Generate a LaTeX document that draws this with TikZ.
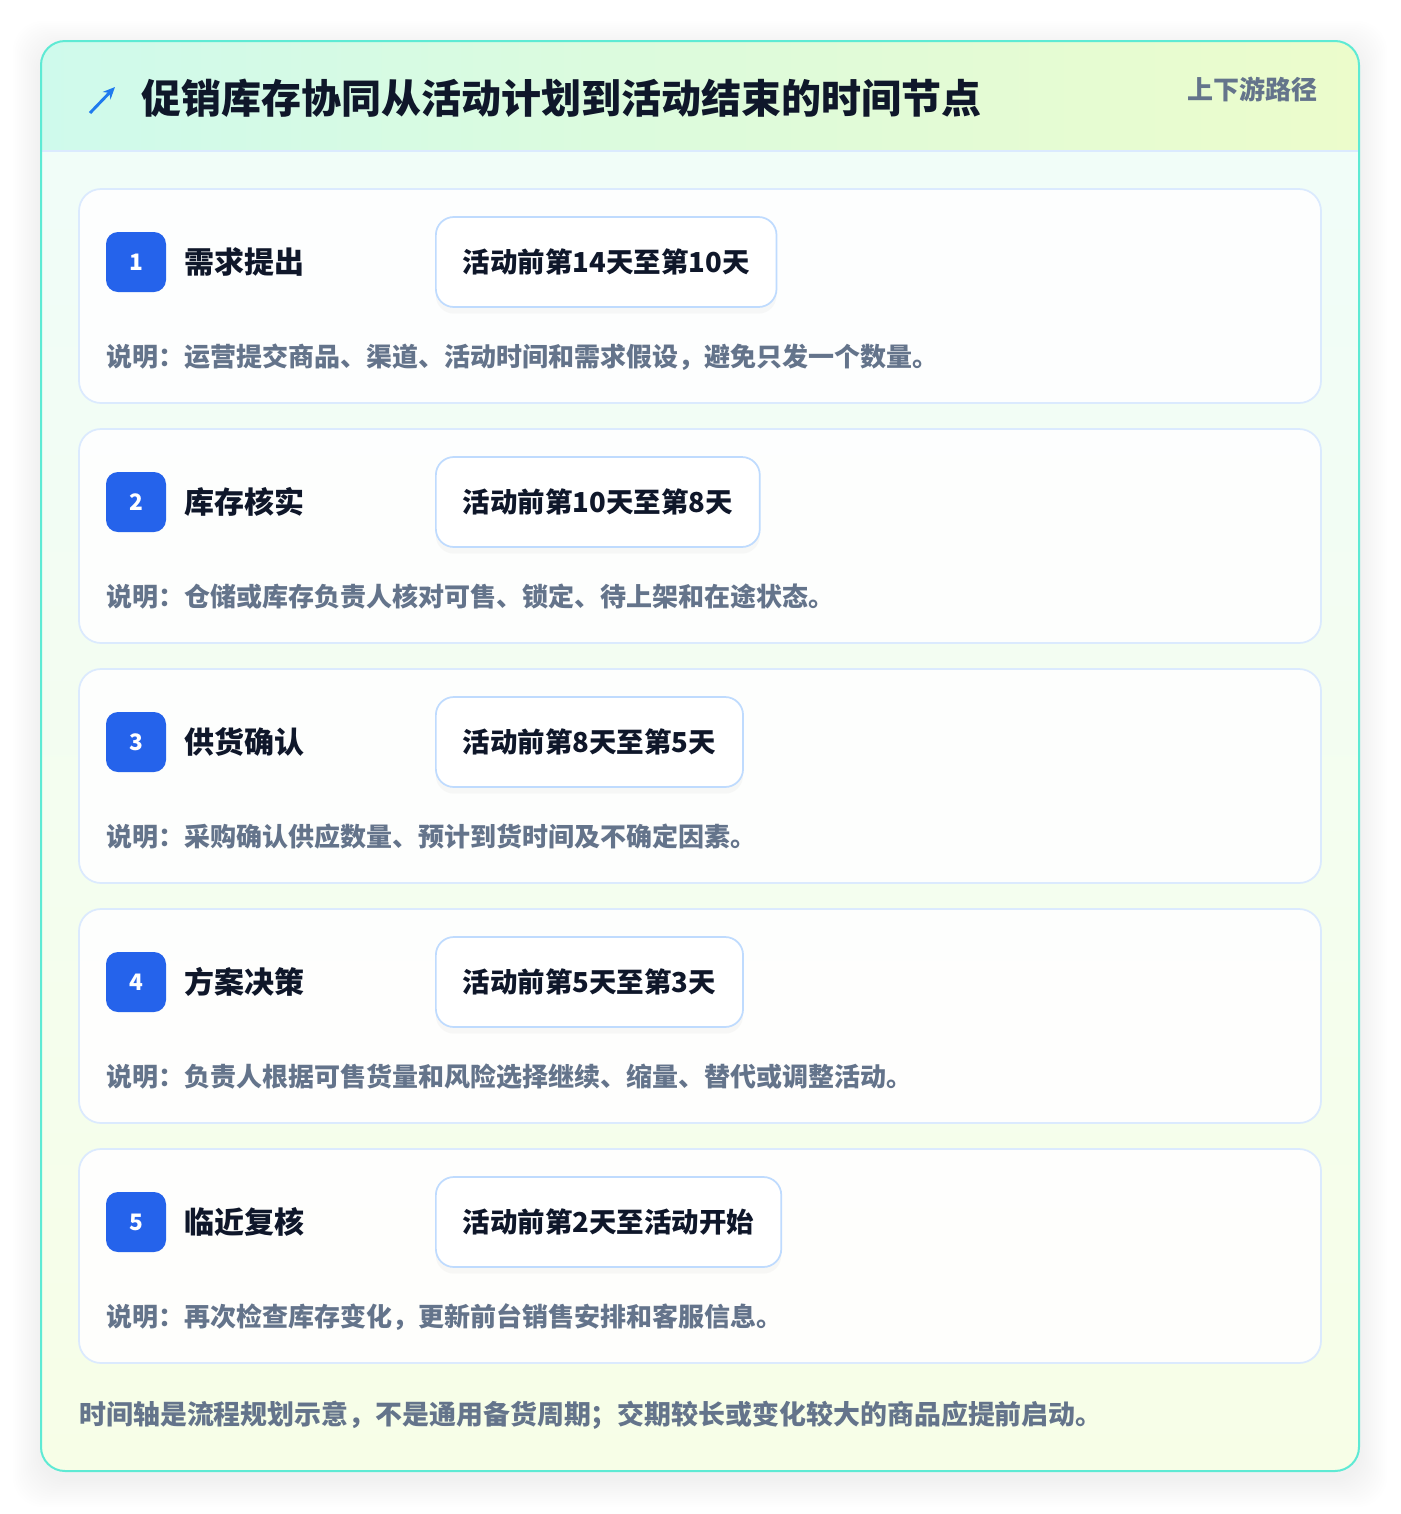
\documentclass[tikz,border=0pt]{standalone}
\usepackage{fontspec}
\setmainfont{Noto Sans CJK SC}
\usepackage{xcolor}
\usetikzlibrary{arrows.meta,positioning,shadows}

\definecolor{bodytop}{HTML}{F0FDFA}
\definecolor{bodybot}{HTML}{F7FEE7}
\definecolor{headl}{HTML}{CFFAEC}
\definecolor{headr}{HTML}{ECFCCB}
\definecolor{rimteal}{HTML}{5EEAD4}
\definecolor{cardline}{HTML}{DBEAFE}
\definecolor{pillline}{HTML}{BFDBFE}
\definecolor{badgeblue}{HTML}{2563EB}
\definecolor{ink}{HTML}{0F172A}
\definecolor{slate}{HTML}{64748B}

\begin{document}
\begin{tikzpicture}[x=0.75pt,y=-0.75pt,
    every node/.style={inner sep=0pt},
    card/.style={draw=cardline, line width=1.3pt, fill=white, fill opacity=0.9, rounded corners=16.5pt},
    badge/.style={fill=badgeblue, text=white, rounded corners=9pt, minimum size=45pt,
        font=\bfseries\fontsize{17}{17}\selectfont},
    steptitle/.style={text=ink, font=\bfseries\fontsize{22.5}{24}\selectfont},
    timepill/.style={draw=pillline, line width=1.3pt, fill=white, rounded corners=13.5pt,
        minimum height=67.5pt, inner xsep=20.25pt, text=ink,
        drop shadow={opacity=0.05, shadow xshift=0pt, shadow yshift=-5pt},
        font=\bfseries\fontsize{20.6}{22}\selectfont},
    note/.style={text=slate, font=\bfseries\fontsize{19.5}{21}\selectfont}]
    \useasboundingbox (0,0) rectangle (1400,1514);
    \fill[white] (0,0) rectangle (1400,1514);
    % soft shadow round the panel
    \foreach \s in {1,...,14}
        \fill[black, opacity=0.005, rounded corners=22pt] ({41-2*\s},{49-2*\s}) rectangle ({1359+2*\s},{1479+2*\s});
    % panel
    \begin{scope}
        \clip[rounded corners=18pt] (41,41) rectangle (1359,1471);
        \shade[top color=bodytop, bottom color=bodybot] (41,41) rectangle (1359,1471);
        \shade[left color=headl, right color=headr] (41,41) rectangle (1359,151);
        \draw[cardline, line width=1.3pt] (41,151) -- (1359,151);
    \end{scope}
    \draw[rimteal, line width=1.5pt, rounded corners=18pt] (41,41) rectangle (1359,1471);
    % header
    \coordinate (icon0) at (90,113);
    \coordinate (icon1) at (115,87);
    \draw[-{Stealth[length=9pt,width=8pt]}, badgeblue!85!cyan, line width=2.2pt] (icon0) -- (icon1);
    \node[anchor=west, text=ink, font=\bfseries\fontsize{30}{32}\selectfont] (title) at (141,98)
        {促销库存协同从活动计划到活动结束的时间节点};
    \node[anchor=east, text=slate, font=\bfseries\fontsize{19.5}{21}\selectfont] (tag) at (1318,89) {上下游路径};
    % steps
    \foreach \i/\name/\when/\desc in {
        1/需求提出/活动前第14天至第10天/{说明：运营提交商品、渠道、活动时间和需求假设，避免只发一个数量。},
        2/库存核实/活动前第10天至第8天/{说明：仓储或库存负责人核对可售、锁定、待上架和在途状态。},
        3/供货确认/活动前第8天至第5天/{说明：采购确认供应数量、预计到货时间及不确定因素。},
        4/方案决策/活动前第5天至第3天/{说明：负责人根据可售货量和风险选择继续、缩量、替代或调整活动。},
        5/临近复核/活动前第2天至活动开始/{说明：再次检查库存变化，更新前台销售安排和客服信息。}}{
        \pgfmathsetmacro{\dy}{240*(\i-1)}
        \draw[card] (79,{189+\dy}) rectangle (1321,{403+\dy});
        \node[badge] (b\i) at (136,{262+\dy}) {\i};
        \node[steptitle, right=13.5pt of b\i] (t\i) {\name};
        \node[timepill, anchor=west] (p\i) at (435,{262+\dy}) {\when};
        \node[note, anchor=west] (n\i) at (106,{357+\dy}) {\desc};
    }
    % footer
    \node[note, anchor=west, font=\bfseries\fontsize{20.2}{22}\selectfont] (foot) at (79,1415)
        {时间轴是流程规划示意，不是通用备货周期；交期较长或变化较大的商品应提前启动。};
\end{tikzpicture}
\end{document}
